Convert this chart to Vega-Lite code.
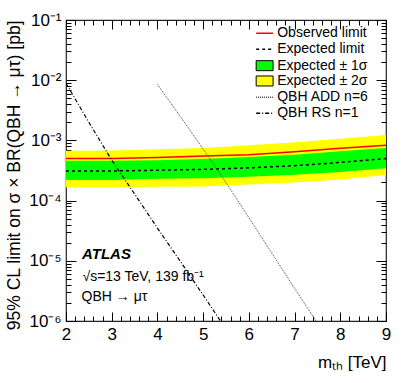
{
  "$schema": "https://vega.github.io/schema/vega-lite/v6.json",
  "width": 320,
  "height": 301,
  "autosize": {"type": "none"},
  "padding": {"left": 66, "top": 20, "right": 21, "bottom": 62},
  "background": "white",
  "config": {
    "view": {"stroke": "#222222", "strokeWidth": 1.2},
    "font": "Liberation Sans",
    "axis": {"labelFont": "Liberation Sans", "titleFont": "Liberation Sans", "labelColor": "black", "titleColor": "black", "tickColor": "black", "tickWidth": 1, "grid": false, "domain": false}
  },
  "datasets": {
    "lim": [
      {"m": 2, "obs": 5.0e-4, "exp": 3.1e-4, "g_lo": 2.2e-4, "g_hi": 4.6e-4, "y_lo": 1.65e-4, "y_hi": 6.7e-4},
      {"m": 3, "obs": 5.0e-4, "exp": 3.1e-4, "g_lo": 2.2e-4, "g_hi": 4.6e-4, "y_lo": 1.65e-4, "y_hi": 6.8e-4},
      {"m": 4, "obs": 5.2e-4, "exp": 3.2e-4, "g_lo": 2.3e-4, "g_hi": 4.7e-4, "y_lo": 1.7e-4, "y_hi": 7.1e-4},
      {"m": 5, "obs": 5.5e-4, "exp": 3.3e-4, "g_lo": 2.35e-4, "g_hi": 4.9e-4, "y_lo": 1.72e-4, "y_hi": 7.5e-4},
      {"m": 6, "obs": 5.8e-4, "exp": 3.5e-4, "g_lo": 2.5e-4, "g_hi": 5.3e-4, "y_lo": 1.85e-4, "y_hi": 8.3e-4},
      {"m": 7, "obs": 6.5e-4, "exp": 3.8e-4, "g_lo": 2.7e-4, "g_hi": 5.8e-4, "y_lo": 2.0e-4, "y_hi": 9.3e-4},
      {"m": 8, "obs": 7.4e-4, "exp": 4.3e-4, "g_lo": 3.0e-4, "g_hi": 6.6e-4, "y_lo": 2.25e-4, "y_hi": 1.07e-3},
      {"m": 9, "obs": 8.3e-4, "exp": 5.0e-4, "g_lo": 3.45e-4, "g_hi": 7.5e-4, "y_lo": 2.65e-4, "y_hi": 1.23e-3}
    ],
    "add": [
      {"m": 4.0, "xs": 8.5e-3},
      {"m": 4.5, "xs": 2.5e-3},
      {"m": 5.0, "xs": 7.2e-4},
      {"m": 5.5, "xs": 2.0e-4},
      {"m": 6.0, "xs": 5.2e-5},
      {"m": 6.5, "xs": 1.35e-5},
      {"m": 7.0, "xs": 3.5e-6},
      {"m": 7.47, "xs": 1.0e-6}
    ],
    "rs": [
      {"m": 2.0, "xs": 8.9e-3},
      {"m": 2.5, "xs": 2.0e-3},
      {"m": 3.0, "xs": 4.7e-4},
      {"m": 3.5, "xs": 1.29e-4},
      {"m": 4.0, "xs": 3.5e-5},
      {"m": 4.5, "xs": 9.8e-6},
      {"m": 5.0, "xs": 2.7e-6},
      {"m": 5.4, "xs": 9.5e-7}
    ],
    "legLines": [
      {"k": "obs", "x1": 6.16, "x2": 6.53, "y": 0.0601},
      {"k": "exp", "x1": 6.16, "x2": 6.53, "y": 0.0326},
      {"k": "add", "x1": 6.16, "x2": 6.53, "y": 0.0052},
      {"k": "rs", "x1": 6.16, "x2": 6.53, "y": 0.00282}
    ],
    "legBoxes": [
      {"k": "g", "x1": 6.16, "x2": 6.53, "y1": 0.0144, "y2": 0.0211},
      {"k": "y", "x1": 6.16, "x2": 6.53, "y1": 0.00802, "y2": 0.01175}
    ],
    "legText": [
      {"t": "Observed limit", "x": 6.62, "y": 0.0601},
      {"t": "Expected limit", "x": 6.62, "y": 0.0326},
      {"t": "Expected ± 1σ", "x": 6.62, "y": 0.0174},
      {"t": "Expected ± 2σ", "x": 6.62, "y": 0.0097},
      {"t": "QBH ADD n=6", "x": 6.62, "y": 0.0052},
      {"t": "QBH RS n=1", "x": 6.62, "y": 0.00282}
    ],
    "notes": [
      {"t": "√s=13 TeV, 139 fb⁻¹", "x": 2.36, "y": 5.45e-6},
      {"t": "QBH → μτ", "x": 2.34, "y": 2.54e-6}
    ],
    "atlas": [
      {"t": "ATLAS", "x": 2.35, "y": 1.3e-5}
    ]
  },
  "resolve": {"axis": {"x": "independent", "y": "independent"}},
  "layer": [
    {
      "data": {"name": "lim"},
      "mark": {"type": "area", "color": "#ffff00", "opacity": 1},
      "encoding": {
        "x": {"field": "m", "type": "quantitative", "scale": {"domain": [2, 9], "nice": false, "zero": false},
          "axis": {"orient": "bottom", "values": [2, 3, 4, 5, 6, 7, 8, 9], "ticks": false, "labelFontSize": 17, "labelPadding": 5, "labelFlush": false, "format": "d", "title": "mₜₕ [TeV]", "titleAnchor": "end", "titleFontSize": 17, "titleFontWeight": "normal", "titlePadding": 12}},
        "y": {"field": "y_hi", "type": "quantitative", "scale": {"type": "log", "domain": [1e-6, 0.1], "nice": false},
          "axis": {"orient": "left", "values": [1e-6, 1e-5, 1e-4, 1e-3, 1e-2, 1e-1], "ticks": false, "labelFontSize": 17, "labelPadding": 5, "labelFlush": false, "labelExpr": "'10⁻' + ['⁰','¹','²','³','⁴','⁵','⁶'][-round(log(datum.value)/LN10)]", "title": "95% CL limit on σ × BR(QBH → μτ) [pb]", "titleAnchor": "end", "titleFontSize": 17.5, "titleFontWeight": "normal", "titlePadding": 5}},
        "y2": {"field": "y_lo"}
      }
    },
    {
      "data": {"name": "lim"},
      "mark": {"type": "area", "color": "#00ff00", "opacity": 1},
      "encoding": {
        "x": {"field": "m", "type": "quantitative",
          "axis": {"orient": "bottom", "values": [2, 3, 4, 5, 6, 7, 8, 9], "tickSize": -9, "labels": false, "title": null}},
        "y": {"field": "g_hi", "type": "quantitative",
          "axis": {"orient": "left", "values": [1e-6, 1e-5, 1e-4, 1e-3, 1e-2, 1e-1], "tickSize": -10, "labels": false, "title": null}},
        "y2": {"field": "g_lo"}
      }
    },
    {
      "data": {"name": "lim"},
      "mark": {"type": "line", "color": "#ff0000", "strokeWidth": 1.5},
      "encoding": {
        "x": {"field": "m", "type": "quantitative",
          "axis": {"orient": "bottom", "values": [2.2, 2.4, 2.6, 2.8, 3.2, 3.4, 3.6, 3.8, 4.2, 4.4, 4.6, 4.8, 5.2, 5.4, 5.6, 5.8, 6.2, 6.4, 6.6, 6.8, 7.2, 7.4, 7.6, 7.8, 8.2, 8.4, 8.6, 8.8], "tickSize": -5, "labels": false, "title": null}},
        "y": {"field": "obs", "type": "quantitative",
          "axis": {"orient": "left", "values": [2e-6, 3e-6, 4e-6, 5e-6, 6e-6, 7e-6, 8e-6, 9e-6, 2e-5, 3e-5, 4e-5, 5e-5, 6e-5, 7e-5, 8e-5, 9e-5, 2e-4, 3e-4, 4e-4, 5e-4, 6e-4, 7e-4, 8e-4, 9e-4, 2e-3, 3e-3, 4e-3, 5e-3, 6e-3, 7e-3, 8e-3, 9e-3, 2e-2, 3e-2, 4e-2, 5e-2, 6e-2, 7e-2, 8e-2, 9e-2], "tickSize": -5, "labels": false, "title": null}}
      }
    },
    {
      "data": {"name": "lim"},
      "mark": {"type": "line", "color": "black", "strokeWidth": 1.5, "strokeDash": [3, 3]},
      "encoding": {
        "x": {"field": "m", "type": "quantitative",
          "axis": {"orient": "top", "values": [2, 3, 4, 5, 6, 7, 8, 9], "tickSize": -9, "labels": false, "title": null}},
        "y": {"field": "exp", "type": "quantitative",
          "axis": {"orient": "right", "values": [1e-6, 1e-5, 1e-4, 1e-3, 1e-2, 1e-1], "tickSize": -10, "labels": false, "title": null}}
      }
    },
    {
      "data": {"name": "add"},
      "mark": {"type": "line", "color": "#444444", "strokeWidth": 1, "strokeDash": [1, 1], "clip": true},
      "encoding": {
        "x": {"field": "m", "type": "quantitative",
          "axis": {"orient": "top", "values": [2.2, 2.4, 2.6, 2.8, 3.2, 3.4, 3.6, 3.8, 4.2, 4.4, 4.6, 4.8, 5.2, 5.4, 5.6, 5.8, 6.2, 6.4, 6.6, 6.8, 7.2, 7.4, 7.6, 7.8, 8.2, 8.4, 8.6, 8.8], "tickSize": -5, "labels": false, "title": null}},
        "y": {"field": "xs", "type": "quantitative",
          "axis": {"orient": "right", "values": [2e-6, 3e-6, 4e-6, 5e-6, 6e-6, 7e-6, 8e-6, 9e-6, 2e-5, 3e-5, 4e-5, 5e-5, 6e-5, 7e-5, 8e-5, 9e-5, 2e-4, 3e-4, 4e-4, 5e-4, 6e-4, 7e-4, 8e-4, 9e-4, 2e-3, 3e-3, 4e-3, 5e-3, 6e-3, 7e-3, 8e-3, 9e-3, 2e-2, 3e-2, 4e-2, 5e-2, 6e-2, 7e-2, 8e-2, 9e-2], "tickSize": -5, "labels": false, "title": null}}
      }
    },
    {
      "data": {"name": "rs"},
      "mark": {"type": "line", "color": "black", "strokeWidth": 1.2, "strokeDash": [4, 2, 1, 2], "clip": true},
      "encoding": {
        "x": {"field": "m", "type": "quantitative", "axis": null},
        "y": {"field": "xs", "type": "quantitative", "axis": null}
      }
    },
    {
      "data": {"name": "legBoxes"},
      "mark": {"type": "rect", "stroke": "black", "strokeWidth": 1},
      "encoding": {
        "x": {"field": "x1", "type": "quantitative", "axis": null},
        "x2": {"field": "x2"},
        "y": {"field": "y1", "type": "quantitative", "axis": null},
        "y2": {"field": "y2"},
        "fill": {"field": "k", "type": "nominal", "scale": {"domain": ["g", "y"], "range": ["#00ff00", "#ffff00"]}, "legend": null}
      }
    },
    {
      "data": {"name": "legLines"},
      "mark": {"type": "rule"},
      "encoding": {
        "x": {"field": "x1", "type": "quantitative", "axis": null},
        "x2": {"field": "x2"},
        "y": {"field": "y", "type": "quantitative", "axis": null},
        "color": {"field": "k", "type": "nominal", "scale": {"domain": ["obs", "exp", "add", "rs"], "range": ["#ff0000", "black", "#444444", "black"]}, "legend": null},
        "strokeDash": {"field": "k", "type": "nominal", "scale": {"domain": ["obs", "exp", "add", "rs"], "range": [[1, 0], [3, 3], [1, 1], [4, 2, 1, 2]]}, "legend": null},
        "strokeWidth": {"field": "k", "type": "nominal", "scale": {"domain": ["obs", "exp", "add", "rs"], "range": [1.5, 1.5, 1, 1.2]}, "legend": null}
      }
    },
    {
      "data": {"name": "legText"},
      "mark": {"type": "text", "align": "left", "baseline": "middle", "fontSize": 14, "font": "Liberation Sans", "color": "black"},
      "encoding": {
        "x": {"field": "x", "type": "quantitative", "axis": null},
        "y": {"field": "y", "type": "quantitative", "axis": null},
        "text": {"field": "t"}
      }
    },
    {
      "data": {"name": "notes"},
      "mark": {"type": "text", "align": "left", "baseline": "middle", "fontSize": 14, "font": "Liberation Sans", "color": "black"},
      "encoding": {
        "x": {"field": "x", "type": "quantitative", "axis": null},
        "y": {"field": "y", "type": "quantitative", "axis": null},
        "text": {"field": "t"}
      }
    },
    {
      "data": {"name": "atlas"},
      "mark": {"type": "text", "align": "left", "baseline": "middle", "fontSize": 15, "font": "Liberation Sans", "fontWeight": "bold", "fontStyle": "italic", "color": "black"},
      "encoding": {
        "x": {"field": "x", "type": "quantitative", "axis": null},
        "y": {"field": "y", "type": "quantitative", "axis": null},
        "text": {"field": "t"}
      }
    }
  ]
}
